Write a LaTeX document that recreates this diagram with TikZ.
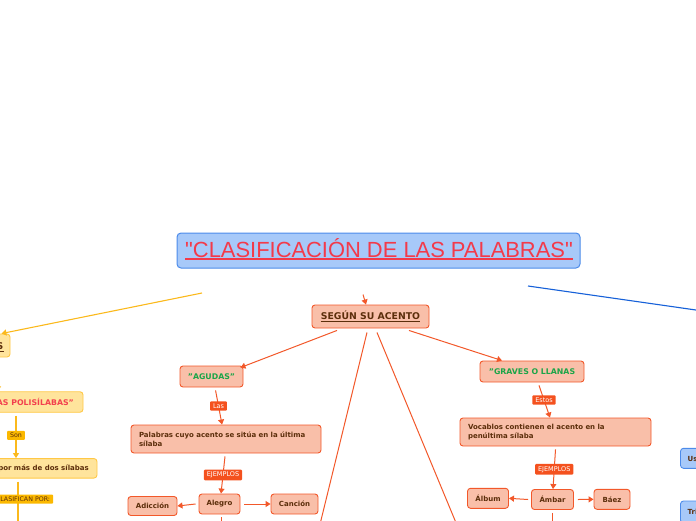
\documentclass[tikz,border=0pt]{standalone}
\usepackage{fontspec}
\setmainfont{DejaVu Sans}
\newfontfamily\titlefont{Liberation Sans}
\usetikzlibrary{arrows.meta}
\definecolor{ored}{HTML}{F2582A}
\definecolor{ofill}{HTML}{F9BFA9}
\definecolor{olabc}{HTML}{F4511E}
\definecolor{tdark}{HTML}{5C2E0B}
\definecolor{tgreen}{HTML}{1BA548}
\definecolor{yline}{HTML}{FBB91C}
\definecolor{ybord}{HTML}{FFC845}
\definecolor{yfill}{HTML}{FFE49C}
\definecolor{ylabc}{HTML}{FBB800}
\definecolor{tred}{HTML}{F2404E}
\definecolor{bline}{HTML}{1560D8}
\definecolor{bfill}{HTML}{A7C9F9}
\definecolor{bbord}{HTML}{4C8BEA}
\definecolor{ttitle}{HTML}{F33A4A}
\begin{document}
\begin{tikzpicture}[x=1pt,y=-1pt,
  box/.style={rounded corners=3pt, line width=0.9pt, inner sep=0pt, text=tdark,
    font=\bfseries\fontsize{7}{9}\selectfont},
  obox/.style={box, draw=ored, fill=ofill},
  ybox/.style={box, draw=ybord, fill=yfill},
  bbox/.style={box, draw=bbord, fill=bfill},
  txt/.style={inner sep=0pt, text=tdark, font=\bfseries\fontsize{7}{9}\selectfont},
  bigtxt/.style={inner sep=0pt, text=tdark, font=\bfseries\fontsize{9.3}{11}\selectfont},
  olab/.style={fill=olabc, rounded corners=1pt, text=white, font=\fontsize{6.5}{7.5}\selectfont,
    inner xsep=3pt, inner ysep=2.2pt},
  ylab/.style={fill=ylabc, rounded corners=1pt, text=tdark, font=\fontsize{6.3}{7.5}\selectfont,
    inner xsep=3pt, inner ysep=2.2pt},
  oline/.style={draw=ored, line width=1pt},
  oarr/.style={oline, -{Triangle[length=5pt,width=6pt]}},
  yarr/.style={draw=yline, line width=1.1pt, -{Triangle[length=5pt,width=6pt]}},
  ylin/.style={draw=yline, line width=1.1pt},
  ]
\useasboundingbox (0,0) rectangle (696,520);
\clip (0,0) rectangle (696,520);

% title
\node[draw=bbord, fill=bfill, rounded corners=4pt, line width=1pt, minimum width=403pt,
  minimum height=35pt] (title) at (378.5,250.5) {};
\node[anchor=base, inner sep=0pt, text=ttitle, font=\titlefont\fontsize{21.9}{24}\selectfont]
  (titletext) at (379,257) {"CLASIFICACIÓN DE LAS PALABRAS"};
\draw[ttitle, line width=1.5pt] ([yshift=-2.2pt]titletext.base west) -- ([yshift=-2.2pt]titletext.base east);

% SEGUN SU ACENTO
\node[obox, minimum width=117pt, minimum height=23pt] (segun) at (370.5,316.5) {};
\node[bigtxt, anchor=base] (seguntext) at (370.5,319.5) {SEGÚN SU ACENTO};
\draw[tdark, line width=0.7pt] ([yshift=-2.2pt]seguntext.base west) -- ([yshift=-2.2pt]seguntext.base east);
\coordinate (sa) at (363,294.5);
\draw[oarr] (sa) -- ([xshift=-4.5pt]segun.north);

% AGUDAS branch
\node[obox, minimum width=63pt, minimum height=21pt, text=tgreen,
  font=\bfseries\fontsize{7.8}{9}\selectfont] (agudas) at (211.5,376.5) {"AGUDAS"};
\node[obox, minimum width=190pt, minimum height=28pt, text width=174pt, align=left,
  inner xsep=8pt] (adesc) at (226,439) {Palabras cuyo acento se sitúa en la última\\sílaba};
\node[obox, minimum width=41pt, minimum height=20pt] (alegro) at (219.5,504) {Alegro};
\node[obox, minimum width=49pt, minimum height=19pt] (adiccion) at (152.5,506) {Adicción};
\node[obox, minimum width=47pt, minimum height=20pt] (cancion) at (294.5,504) {Canción};

\draw[oarr] ([xshift=-33.5pt,yshift=-2pt]segun.south) -- ([xshift=-3pt,yshift=-2pt]agudas.north east);
\draw[oarr, shorten <=3pt] ([xshift=3.5pt]agudas.south) -- node[olab] (las) {Las} ([xshift=-4pt]adesc.north);
\draw[oarr] ([xshift=-1pt,yshift=-3pt]adesc.south) -- node[olab] (ejA) {EJEMPLOS} ([xshift=1.5pt]alegro.north);
\draw[oarr] ([xshift=-3pt]alegro.west) -- (adiccion.east);
\draw[oarr] ([xshift=4pt]alegro.east) -- (cancion.west);
\coordinate (adown) at (221,530);
\draw[oline] ([xshift=1.5pt,yshift=-3pt]alegro.south) -- (adown);

% down lines
\coordinate (d1) at (318.6,530);
\coordinate (d2) at (459,530);
\draw[oline] ([xshift=-3.5pt,yshift=-4pt]segun.south) -- (d1);
\draw[oline] ([xshift=6.5pt,yshift=-4pt]segun.south) -- (d2);

% GRAVES branch
\node[obox, minimum width=104pt, minimum height=21pt, text=tgreen,
  font=\bfseries\fontsize{7.8}{9}\selectfont] (graves) at (532,371.5) {"GRAVES O LLANAS};
\node[obox, minimum width=191pt, minimum height=28pt, text width=175pt, align=left,
  inner xsep=8pt] (gdesc) at (555.5,432) {Vocablos contienen el acento en la\\penúltima sílaba};
\node[obox, minimum width=42pt, minimum height=20pt] (ambar) at (552.5,499.5) {Ámbar};
\node[obox, minimum width=41pt, minimum height=20pt] (album) at (488,498.3) {Álbum};
\node[obox, minimum width=36pt, minimum height=20pt] (baez) at (612,499.3) {Báez};

\draw[oarr] ([xshift=38.5pt,yshift=-2pt]segun.south) -- ([xshift=-30pt]graves.north);
\draw[oarr, shorten <=3pt] ([xshift=6pt]graves.south) -- node[olab] (estos) {Estos} ([xshift=-5.5pt]gdesc.north);
\draw[oarr] ([yshift=-3pt]gdesc.south) -- node[olab] (ejG) {EJEMPLOS} ([xshift=0.5pt]ambar.north);
\draw[oarr] ([xshift=-3pt]ambar.west) -- (album.east);
\draw[oarr] ([xshift=4pt]ambar.east) -- (baez.west);
\coordinate (gdown) at (552.5,530);
\draw[oline] ([yshift=-3pt]ambar.south) -- (gdown);

% yellow branch (left, cut off)
\coordinate (ys) at (202,293);
\node[ybox, minimum width=170pt, minimum height=23pt] (ytop) at (-75,345.5) {};
\node[bigtxt, anchor=base east] (ytoptext) at (3.5,349.5) {SEGÚN EL NÚMERO DE SÍLABAS};
\draw[tdark, line width=0.7pt] ([yshift=-2.2pt]ytoptext.base west) -- ([yshift=-2.2pt]ytoptext.base east);
\draw[yarr] (ys) -- ([xshift=-9pt]ytop.north east);

\node[ybox, minimum width=160pt, minimum height=20.5pt] (ypoli) at (3,402) {};
\node[txt, anchor=base east, text=tred, font=\bfseries\fontsize{7.8}{9}\selectfont]
  (ypolitext) at (74,405) {"PALABRAS POLISÍLABAS"};
\draw[yarr] ([xshift=73pt]ytop.south) -- ([xshift=-5pt]ypoli.north);

\node[ybox, minimum width=200pt, minimum height=19.5pt] (ymas) at (-3,468.3) {};
\node[txt, anchor=base east] (ymastext) at (89,470.5) {Formadas por más de dos sílabas};
\draw[yarr, shorten <=3pt] ([xshift=13pt]ypoli.south) -- node[ylab] (son) {Son} ([xshift=19pt]ymas.north);
\coordinate (ydown) at (18,530);
\draw[ylin, shorten <=3pt] ([xshift=21pt]ymas.south) -- node[ylab, pos=0.4] (clas) {SE CLASIFICAN POR:} (ydown);

% blue branch (right, cut off)
\coordinate (bs) at (528,286);
\coordinate (be) at (740,316.3);
\draw[draw=bline, line width=1.1pt] (bs) -- (be);
\node[bbox, minimum width=60pt, minimum height=20pt] (uso) at (710.5,458.3) {};
\node[txt, anchor=base west] (usotext) at (687.5,461) {Uso};
\node[bbox, minimum width=60pt, minimum height=22pt] (tr) at (710.5,512) {};
\node[txt, anchor=base west] (trtext) at (687.5,514.5) {Trisílabas};
\end{tikzpicture}
\end{document}
